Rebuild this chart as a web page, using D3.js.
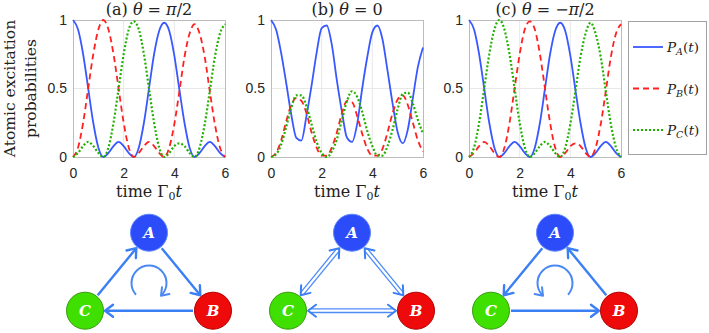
<!DOCTYPE html>
<html>
<head>
<meta charset="utf-8">
<script src="https://cdn.jsdelivr.net/npm/d3@7"></script>
<style>
  body { margin: 0; background: #fff; }
  svg { display: block; }
</style>
</head>
<body>
<svg id="chart" width="709" height="333"></svg>
<script>
// sample times (Γ0 t)
const times = [0, 0.2, 0.4, 0.6, 0.8, 1.0, 1.2, 1.4, 1.6, 1.8, 2.0, 2.2, 2.4, 2.6, 2.8, 3.0,
               3.2, 3.4, 3.6, 3.8, 4.0, 4.2, 4.4, 4.6, 4.8, 5.0, 5.2, 5.4, 5.6, 5.8, 6.0];

// (a) theta = pi/2
const aPA = [1.0, 0.93, 0.75, 0.5, 0.25, 0.07, 0, 0.03, 0.08, 0.11, 0.08, 0.03, 0, 0.07, 0.25, 0.5,
             0.75, 0.92, 0.98, 0.92, 0.74, 0.49, 0.25, 0.07, 0, 0.03, 0.08, 0.11, 0.08, 0.03, 0];
const aPB = [0, 0.07, 0.25, 0.5, 0.75, 0.93, 1.0, 0.93, 0.75, 0.5, 0.25, 0.07, 0, 0.03, 0.08, 0.11,
             0.08, 0.03, 0, 0.07, 0.24, 0.48, 0.73, 0.9, 0.97, 0.9, 0.73, 0.48, 0.24, 0.07, 0];
const aPC = [0, 0.03, 0.08, 0.11, 0.08, 0.03, 0, 0.07, 0.25, 0.5, 0.75, 0.93, 0.99, 0.93, 0.75, 0.5,
             0.25, 0.07, 0, 0.03, 0.08, 0.1, 0.08, 0.03, 0, 0.07, 0.24, 0.48, 0.73, 0.9, 0.97];

// (b) theta = 0
const bPA = [1.0, 0.93, 0.76, 0.54, 0.31, 0.14, 0.12, 0.3, 0.52, 0.76, 0.94, 0.96, 0.82, 0.56, 0.33, 0.14,
             0.11, 0.24, 0.5, 0.73, 0.91, 0.96, 0.86, 0.63, 0.39, 0.18, 0.1, 0.2, 0.43, 0.66, 0.8];
const bPB = [0, 0.03, 0.12, 0.26, 0.38, 0.43, 0.41, 0.32, 0.18, 0.07, 0.01, 0.01, 0.07, 0.18, 0.32, 0.41,
             0.4, 0.3, 0.17, 0.06, 0.01, 0.01, 0.06, 0.18, 0.32, 0.42, 0.45, 0.38, 0.25, 0.12, 0.04];
const bPC = [0, 0.02, 0.09, 0.22, 0.36, 0.45, 0.45, 0.37, 0.24, 0.11, 0.03, 0, 0.04, 0.13, 0.27, 0.41,
             0.48, 0.44, 0.33, 0.19, 0.08, 0.01, 0.01, 0.08, 0.2, 0.35, 0.46, 0.47, 0.39, 0.27, 0.17];

// (c) theta = -pi/2
const cPA = [1.0, 0.93, 0.75, 0.5, 0.25, 0.07, 0, 0.03, 0.08, 0.11, 0.08, 0.03, 0, 0.07, 0.25, 0.5,
             0.75, 0.92, 0.98, 0.92, 0.74, 0.49, 0.25, 0.07, 0, 0.03, 0.08, 0.11, 0.08, 0.03, 0];
const cPB = [0, 0.03, 0.08, 0.11, 0.08, 0.03, 0, 0.07, 0.25, 0.5, 0.75, 0.93, 0.99, 0.93, 0.75, 0.5,
             0.25, 0.07, 0, 0.03, 0.08, 0.1, 0.08, 0.03, 0, 0.07, 0.24, 0.48, 0.73, 0.9, 0.97];
const cPC = [0, 0.07, 0.25, 0.5, 0.75, 0.93, 1.0, 0.93, 0.75, 0.5, 0.25, 0.07, 0, 0.03, 0.08, 0.11,
             0.08, 0.03, 0, 0.07, 0.24, 0.48, 0.73, 0.9, 0.98, 0.9, 0.73, 0.48, 0.24, 0.07, 0];

const panelLetters = ["(a)", "(b)", "(c)"];
// theta value split into [sign, italic symbol, upright rest]
const panelThetas = [["", "π", "/2"], ["", "", "0"], ["−", "π", "/2"]];
const xTicks = [0, 2, 4, 6];
const yTicks = [0, 0.5, 1];
const seriesKeys = ["A", "B", "C"];

// network diagrams
const nodeNames = ["A", "B", "C"];
const nodeCol = [0, 1, -1];
const nodeRow = [1, 0, 0];
const edgesA = [["A", "B"], ["B", "C"], ["C", "A"]];
const edgesB = [["A", "B"], ["B", "C"], ["C", "A"]];
const edgesC = [["A", "C"], ["C", "B"], ["B", "A"]];
const edgeBothWays = [false, true, false];
const spin = [1, 0, -1]; // 1 clockwise, -1 counter-clockwise, 0 none

const panels = [
  { data: [aPA, aPB, aPC], edges: edgesA },
  { data: [bPA, bPB, bPC], edges: edgesB },
  { data: [cPA, cPB, cPC], edges: edgesC },
];

// ---- layout ----
const svg = d3.select("#chart");
const plotLeft = [73, 271, 469];
const plotW = 152, plotTop = 20, plotBottom = 157;
const diagCx = [149, 352, 555];
const serif = "'DejaVu Serif', serif";
const sans = "'Liberation Sans', Arial, sans-serif";

const lineStyle = {
  A: { color: "#3a58ff", dash: null, width: 1.8 },
  B: { color: "#ff2020", dash: "6,4", width: 1.8 },
  C: { color: "#22b000", dash: "2,2", width: 2.2 },
};

panels.forEach((p, i) => {
  const x = d3.scaleLinear().domain([0, 6]).range([plotLeft[i], plotLeft[i] + plotW]);
  const y = d3.scaleLinear().domain([0, 1]).range([plotBottom, plotTop]);
  const g = svg.append("g");

  // grid
  g.selectAll(".gx").data(xTicks.slice(1, -1)).enter().append("line")
    .attr("x1", d => x(d)).attr("x2", d => x(d))
    .attr("y1", plotTop).attr("y2", plotBottom)
    .attr("stroke", "#e8e8e8").attr("stroke-width", 1);
  g.selectAll(".gy").data(yTicks.slice(1, -1)).enter().append("line")
    .attr("x1", plotLeft[i]).attr("x2", plotLeft[i] + plotW)
    .attr("y1", d => y(d)).attr("y2", d => y(d))
    .attr("stroke", "#e8e8e8").attr("stroke-width", 1);

  // axes
  const xAxis = g.append("g").attr("transform", `translate(0,${plotBottom})`)
    .call(d3.axisBottom(x).tickValues(xTicks).tickSize(0).tickPadding(11).tickFormat(d3.format("~g")));
  const yAxis = g.append("g").attr("transform", `translate(${plotLeft[i]},0)`)
    .call(d3.axisLeft(y).tickValues(yTicks).tickSize(0).tickPadding(6).tickFormat(d3.format("~g")));
  [xAxis, yAxis].forEach(a => {
    a.select(".domain").remove();
    a.selectAll("text").attr("font-family", sans).attr("font-size", 14).attr("fill", "#262626");
  });

  // box
  g.append("rect")
    .attr("x", plotLeft[i] + 0.5).attr("y", plotTop + 0.5)
    .attr("width", plotW).attr("height", plotBottom - plotTop)
    .attr("fill", "none").attr("stroke", "#bcbcbc");

  // curves
  seriesKeys.forEach((k, j) => {
    const line = d3.line().x((d, n) => x(times[n])).y(d => y(d)).curve(d3.curveMonotoneX);
    const st = lineStyle[k];
    g.append("path").datum(p.data[j])
      .attr("d", line)
      .attr("fill", "none")
      .attr("stroke", st.color)
      .attr("stroke-width", st.width)
      .attr("stroke-dasharray", st.dash);
  });

  // title
  const title = g.append("text")
    .attr("x", plotLeft[i] + plotW / 2).attr("y", 15)
    .attr("text-anchor", "middle")
    .attr("font-family", serif).attr("font-size", 16).attr("fill", "#222");
  const th = panelThetas[i];
  title.append("tspan").text(panelLetters[i] + " ");
  title.append("tspan").attr("font-style", "italic").text("θ");
  title.append("tspan").text(" = " + th[0]);
  if (th[1]) title.append("tspan").attr("font-style", "italic").text(th[1]);
  title.append("tspan").text(th[2]);

  // x label
  const xl = g.append("text")
    .attr("x", plotLeft[i] + plotW / 2).attr("y", 197)
    .attr("text-anchor", "middle")
    .attr("font-family", serif).attr("font-size", 16).attr("fill", "#222");
  xl.append("tspan").text("time Γ");
  xl.append("tspan").attr("font-size", 11).attr("dy", 3).text("0");
  xl.append("tspan").attr("font-style", "italic").attr("dy", -3).text("t");
});

// y label
const ymid = (plotTop + plotBottom) / 2;
[["Atomic excitation", 15], ["probabilities", 36]].forEach(([txt, bx]) => {
  svg.append("text")
    .attr("transform", `translate(${bx},${ymid}) rotate(-90)`)
    .attr("text-anchor", "middle")
    .attr("font-family", serif).attr("font-size", 15.5).attr("fill", "#222")
    .text(txt);
});

// legend
const leg = svg.append("g");
leg.append("rect").attr("x", 628.5).attr("y", 21.5).attr("width", 78).attr("height", 133)
  .attr("fill", "#fff").attr("stroke", "#a0a0a0");
const legY = d3.scalePoint().domain(seriesKeys).range([47, 130]);
seriesKeys.forEach(k => {
  const st = lineStyle[k];
  leg.append("line").attr("x1", 633).attr("x2", 663).attr("y1", legY(k)).attr("y2", legY(k))
    .attr("stroke", st.color).attr("stroke-width", st.width).attr("stroke-dasharray", st.dash);
  const t = leg.append("text").attr("x", 667).attr("y", legY(k) + 5)
    .attr("font-family", serif).attr("font-size", 13.5).attr("fill", "#222");
  t.append("tspan").attr("font-style", "italic").text("P");
  t.append("tspan").attr("font-style", "italic").attr("font-size", 9.5).attr("dy", 3).text(k);
  t.append("tspan").attr("dy", -3).text("(");
  t.append("tspan").attr("font-style", "italic").text("t");
  t.append("tspan").text(")");
});

// ---- network diagrams ----
const nodeFill = { A: "#2b4cf8", B: "#ee0a0a", C: "#3fe000" };
const nodeStroke = { A: "#5f86ff", B: "#b00000", C: "#3a9a10" };
const arrowColor = "#3b7ff5";
const R = 18.5;

function chevron(g, tip, dir, len, spread, color, w) {
  const n = [-dir[1], dir[0]];
  const b = [tip[0] - dir[0] * len, tip[1] - dir[1] * len];
  g.append("path")
    .attr("d", `M${b[0] + n[0] * spread},${b[1] + n[1] * spread}L${tip[0]},${tip[1]}L${b[0] - n[0] * spread},${b[1] - n[1] * spread}`)
    .attr("fill", "none").attr("stroke", color).attr("stroke-width", w)
    .attr("stroke-linecap", "round").attr("stroke-linejoin", "round");
}

panels.forEach((p, i) => {
  const dx = d3.scaleLinear().domain([-1, 1]).range([diagCx[i] - 64, diagCx[i] + 64]);
  const dy = d3.scaleLinear().domain([0, 1]).range([310.7, 232.7]);
  const pos = {};
  nodeNames.forEach((n, j) => { pos[n] = [dx(nodeCol[j]), dy(nodeRow[j])]; });
  const g = svg.append("g");

  p.edges.forEach(([s, e]) => {
    const a = pos[s], b = pos[e];
    const L = Math.hypot(b[0] - a[0], b[1] - a[1]);
    const u = [(b[0] - a[0]) / L, (b[1] - a[1]) / L];
    const p0 = [a[0] + u[0] * (R + 1.5), a[1] + u[1] * (R + 1.5)];
    const p1 = [b[0] - u[0] * (R + 1.5), b[1] - u[1] * (R + 1.5)];
    if (edgeBothWays[i]) {
      const n = [-u[1], u[0]];
      [-1.8, 1.8].forEach(o => {
        g.append("line")
          .attr("x1", p0[0] + u[0] * 2 + n[0] * o).attr("y1", p0[1] + u[1] * 2 + n[1] * o)
          .attr("x2", p1[0] - u[0] * 2 + n[0] * o).attr("y2", p1[1] - u[1] * 2 + n[1] * o)
          .attr("stroke", "#4d8cf7").attr("stroke-width", 1.3);
      });
      chevron(g, p1, u, 8, 6, "#3b7ff5", 2);
      chevron(g, p0, [-u[0], -u[1]], 8, 6, "#3b7ff5", 2);
    } else {
      g.append("line").attr("x1", p0[0]).attr("y1", p0[1]).attr("x2", p1[0]).attr("y2", p1[1])
        .attr("stroke", arrowColor).attr("stroke-width", 2.4);
      chevron(g, p1, u, 8, 6, arrowColor, 2.4);
    }
  });

  // rotation arrow
  if (spin[i] !== 0) {
    const cx = dx(0), cy = 283, r = 17.5;
    const a0 = 138 * Math.PI / 180, a1 = 402 * Math.PI / 180;
    const path = d3.path();
    let endA, tdir;
    if (spin[i] > 0) {
      path.arc(cx, cy, r, a0, a1, false);
      endA = a1; tdir = [-Math.sin(endA), Math.cos(endA)];
    } else {
      path.arc(cx, cy, r, a1, a0, true);
      endA = a0; tdir = [Math.sin(endA), -Math.cos(endA)];
    }
    g.append("path").attr("d", path.toString()).attr("fill", "none")
      .attr("stroke", "#4a88f2").attr("stroke-width", 2);
    const tip = [cx + r * Math.cos(endA) + tdir[0] * 1.5, cy + r * Math.sin(endA) + tdir[1] * 1.5];
    chevron(g, tip, tdir, 7, 5, "#4a88f2", 2);
  }

  nodeNames.forEach(n => {
    g.append("circle").attr("cx", pos[n][0]).attr("cy", pos[n][1]).attr("r", R)
      .attr("fill", nodeFill[n]).attr("stroke", nodeStroke[n]).attr("stroke-width", 1);
    g.append("text").attr("x", pos[n][0]).attr("y", pos[n][1]).attr("dy", "0.36em")
      .attr("text-anchor", "middle")
      .attr("font-family", serif).attr("font-style", "italic").attr("font-weight", "bold")
      .attr("font-size", 15).attr("fill", "#fff").text(n);
  });
});
</script>
</body>
</html>
